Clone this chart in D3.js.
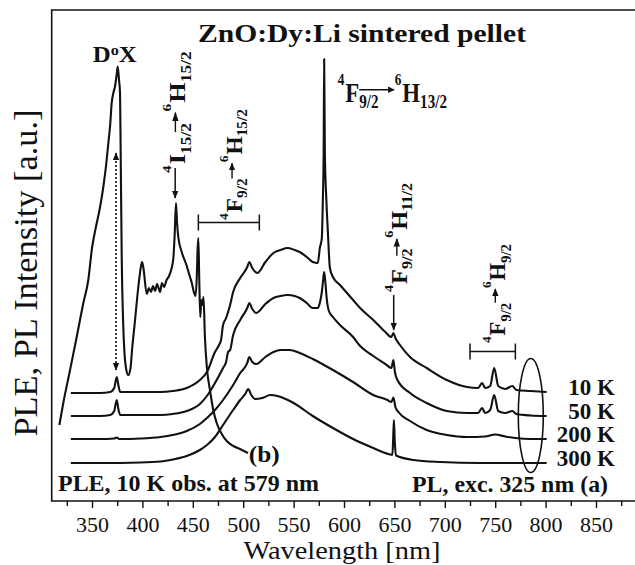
<!DOCTYPE html>
<html>
<head>
<meta charset="utf-8">
<script src="https://cdn.jsdelivr.net/npm/d3@7"></script>
<style>
  body { margin: 0; background: #fff; }
  svg text { font-family: "Liberation Serif", "Times New Roman", serif; fill: #111; }
</style>
</head>
<body>
<svg width="635" height="565"></svg>
<script>
// wavelength [nm], intensity [a.u.]
var ple10K = [[317.6,15.2],[321.5,19.6],[328.2,26.2],[334.8,32.8],[341.4,39.6],[346.3,44.2],[350,50.6],[354.7,55.6],[358,58.8],[361.2,62.8],[364,67.2],[366.2,71.6],[368,75.2],[369.5,79.6],[371.4,81.8],[372.8,82.9],[374.3,85.0],[375.5,86.9],[376.8,84.2],[377.8,81.6],[378.5,68.2],[379.5,48.2],[380.8,36.2],[382.2,29.6],[383.7,26.6],[386,25.2],[388.2,26.6],[389.7,30.2],[392.7,36.2],[395.6,42.2],[397.6,45.6],[399.6,47.8],[401,46.6],[404.3,41.4],[406.5,42.6],[408.5,41.8],[410.5,43.0],[412.5,42.0],[414.5,43.4],[417.5,41.8],[419.4,43.6],[421.4,42.8],[424,44.2],[426.4,45.0],[429,46.6],[430.7,48.6],[432,53.2],[433.3,59.6],[434.3,55.8],[435.6,52.8],[439,49.8],[444,47.0],[446,45.6],[449,43.6],[451,41.8],[452.7,41.0],[454,45.2],[454.7,50.2],[455.5,52.6],[456.4,44.2],[457.4,36.8],[458.4,40.2],[459.6,39.2],[460.6,40.8],[462,32.8],[464,26.6],[467,22.2],[470.3,18.2],[473.7,15.6],[478.7,13.4],[483.6,12.0],[490.2,11.0],[496.8,10.4],[504.8,9.6]];

var pl10K = [[329,21.6],[358,21.6],[368,21.8],[372,22.6],[374.5,24.8],[376.3,23.0],[378,21.8],[398,21.8],[418,21.8],[430,22.0],[444,22.6],[457,24.2],[464,25.8],[472,29.8],[476,31.2],[478,32.2],[480,35.2],[483,36.6],[485,37.8],[487,39.2],[490,41.8],[497,44.6],[504,46.8],[506,47.8],[509,46.6],[514,45.6],[522,47.8],[530,49.6],[537,50.2],[544,50.6],[551,50.2],[556,49.8],[563,48.8],[569,47.8],[574,47.6],[576,50.6],[578,52.6],[579,60.2],[579.8,69.6],[580.3,88.4],[581,69.6],[582.5,60.2],[584,53.8],[586,46.6],[589,44.8],[596,43.2],[609,40.2],[616,38.6],[629,36.2],[641,33.8],[647,32.8],[649,33.6],[651,32.6],[655.5,31.2],[665.5,28.8],[682,26.6],[702,24.2],[722,22.8],[733,22.6],[737,23.6],[740,22.6],[745,23.0],[749,26.6],[753,23.0],[760,22.4],[767,23.0],[771,22.2],[785,22.0],[801,21.8]];

var pl50K = [[329,17.0],[358,17.0],[368,17.2],[372,18.0],[374.5,20.2],[376.3,18.2],[378,17.2],[398,17.2],[418,17.2],[430,17.4],[444,18.0],[457,19.4],[464,21.0],[472,23.6],[480,26.6],[483,27.8],[485,29.8],[487,30.2],[490,33.2],[497,36.2],[504,38.6],[506,39.6],[509,38.4],[513,37.6],[522,39.4],[530,40.6],[537,41.0],[544,41.2],[551,41.0],[556,40.6],[563,39.6],[569,38.6],[574,38.6],[576,39.6],[578,41.8],[579.3,44.2],[580.3,45.8],[581.3,44.2],[583,40.2],[585,38.0],[589,36.8],[596,35.2],[609,32.8],[616,31.0],[629,29.0],[641,27.4],[647,26.6],[649,28.2],[650.5,25.8],[653,24.2],[665.5,21.6],[682,19.6],[702,18.0],[722,17.6],[733,17.6],[737,18.6],[740,17.6],[745,18.2],[749,21.2],[753,18.0],[760,17.6],[767,18.0],[771,17.4],[785,17.1],[801,17.0]];

var pl200K = [[329,12.4],[358,12.4],[372,12.5],[374.5,12.7],[377,12.4],[398,12.5],[418,12.8],[430,13.2],[444,14.0],[457,15.4],[464,16.6],[472,18.2],[480,20.2],[490,23.2],[497,25.6],[504,27.6],[506,28.8],[509,27.8],[513,27.4],[522,28.8],[530,29.8],[537,30.2],[546,30.2],[556,29.6],[569,28.4],[589,26.2],[609,23.8],[629,21.2],[643,20.2],[647,19.8],[649,20.7],[651,18.8],[654,17.8],[665.5,16.0],[682,14.2],[702,13.2],[722,12.8],[740,12.9],[750,13.3],[760,12.9],[770,12.6],[785,12.4],[801,12.4]];

var pl300K = [[329,7.6],[358,7.6],[398,7.7],[418,7.9],[430,8.3],[444,9.0],[457,10.2],[464,11.2],[472,12.8],[480,15.2],[490,18.2],[497,20.2],[502,21.4],[505,22.4],[508,21.2],[512,20.4],[519,20.6],[527,21.2],[534,21.0],[542,20.4],[550,19.6],[569,17.0],[589,14.6],[609,12.4],[629,10.6],[644,9.4],[648,9.2],[648.8,12.6],[649.5,16.2],[650.3,12.2],[651.5,9.1],[669,8.2],[696,7.8],[735,7.6],[801,7.6]];

var plSeries = [pl10K, pl50K, pl200K, pl300K];
var tempLabels = ["10 K", "50 K", "200 K", "300 K"];
var majorTicks = [350, 400, 450, 500, 550, 600, 650, 700, 750, 800, 850];
var minorTicks = [325, 375, 425, 475, 525, 575, 625, 675, 725, 775, 825, 875];

var svg = d3.select("svg");

var x = d3.scaleLinear().domain([310, 900]).range([51.7, 646.4]);
var y = d3.scaleLinear().domain([0, 98.2]).range([501, 10]);

var defs = svg.append("defs");
defs.append("marker").attr("id", "head")
    .attr("viewBox", "0 0 10 10").attr("refX", 9).attr("refY", 5)
    .attr("markerWidth", 8).attr("markerHeight", 8).attr("markerUnits", "userSpaceOnUse")
    .attr("orient", "auto-start-reverse")
  .append("path").attr("d", "M0,1L10,5L0,9z").attr("fill", "#111");

// frame
svg.append("path")
    .attr("d", "M" + x(900) + "," + y(98.2) + "H" + x(310) + "V" + y(0) + "H" + x(900))
    .attr("fill", "none").attr("stroke", "#111").attr("stroke-width", 1.6);

// axes
var bottomAxis = d3.axisBottom(x).tickValues(majorTicks).tickSize(7).tickPadding(8).tickFormat(d3.format("d"));
var gx = svg.append("g").attr("transform", "translate(0," + y(0) + ")").call(bottomAxis);
gx.select(".domain").remove();
gx.attr("font-family", null);
gx.selectAll("text").attr("font-size", 22).attr("fill", "#111");
gx.selectAll("line").attr("stroke", "#111").attr("stroke-width", 1.4);

var minorAxis = d3.axisBottom(x).tickValues(minorTicks).tickSize(5).tickFormat("");
var gm = svg.append("g").attr("transform", "translate(0," + y(0) + ")").call(minorAxis);
gm.select(".domain").remove();
gm.selectAll("line").attr("stroke", "#111").attr("stroke-width", 1.4);

svg.append("text").attr("x", 342).attr("y", 559).attr("text-anchor", "middle")
    .attr("font-size", 25).attr("textLength", 197).attr("lengthAdjust", "spacingAndGlyphs")
    .text("Wavelength [nm]");
svg.append("text").attr("transform", "translate(37,273) rotate(-90)").attr("text-anchor", "middle")
    .attr("font-size", 33).attr("textLength", 327).attr("lengthAdjust", "spacingAndGlyphs")
    .text("PLE, PL Intensity [a.u.]");

// curves
var line = d3.line().x(function(d) { return x(d[0]); }).y(function(d) { return y(d[1]); })
    .curve(d3.curveMonotoneX);

svg.selectAll(".pl").data(plSeries).enter().append("path")
    .attr("class", "pl").attr("d", line)
    .attr("fill", "none").attr("stroke", "#111").attr("stroke-width", 2.1).attr("stroke-linejoin", "round");

svg.append("path").datum(ple10K).attr("d", line)
    .attr("fill", "none").attr("stroke", "#111").attr("stroke-width", 2.1).attr("stroke-linejoin", "round");

// temperature labels at the end of each PL curve
svg.selectAll(".temp").data(plSeries).enter().append("text")
    .attr("class", "temp")
    .attr("x", 615).attr("y", function(d) { return y(d[d.length - 1][1]) + 3; })
    .attr("text-anchor", "end").attr("font-size", 23).attr("font-weight", "bold")
    .text(function(d, i) { return tempLabels[i]; });

// ellipse round the curve ends
svg.append("ellipse")
    .attr("cx", x(785.3)).attr("cy", y(17.1))
    .attr("rx", x(797.7) - x(785.3)).attr("ry", y(0) - y(11.4))
    .attr("fill", "none").attr("stroke", "#111").attr("stroke-width", 1.6);

// text boxes
function boldText(px, py, size, len, str, anchor) {
  return svg.append("text").attr("x", px).attr("y", py).attr("font-size", size).attr("font-weight", "bold")
      .attr("text-anchor", anchor || "start")
      .attr("textLength", len).attr("lengthAdjust", "spacingAndGlyphs").text(str);
}
boldText(198, 42, 25, 328, "ZnO:Dy:Li sintered pellet");
boldText(58, 491, 23, 261, "PLE, 10 K obs. at 579 nm");
boldText(412, 492, 23, 196, "PL, exc. 325 nm (a)");
boldText(x(505.5), y(7.8), 23, 31, "(b)");

var dx = svg.append("text").attr("x", x(350.7)).attr("y", y(87.9)).attr("font-size", 23).attr("font-weight", "bold")
    .attr("textLength", 44).attr("lengthAdjust", "spacingAndGlyphs");
dx.append("tspan").text("D");
dx.append("tspan").attr("font-size", 15).attr("dy", -7).text("o");
dx.append("tspan").attr("dy", 7).text("X");

// dotted double arrow at the D0X line
svg.append("line")
    .attr("x1", x(373.8)).attr("x2", x(373.8)).attr("y1", y(69.6)).attr("y2", y(26.2))
    .attr("stroke", "#111").attr("stroke-width", 1.6).attr("stroke-dasharray", "2,2")
    .attr("marker-start", "url(#head)").attr("marker-end", "url(#head)");

// pointer arrows
function pointer(wl, i0, i1) {
  svg.append("line").attr("x1", x(wl)).attr("x2", x(wl)).attr("y1", y(i0)).attr("y2", y(i1))
      .attr("stroke", "#111").attr("stroke-width", 1.5).attr("marker-end", "url(#head)");
}
pointer(432.5, 66.6, 60.6);
pointer(649.3, 41.2, 34.2);

// range brackets
function bracket(w0, w1, level) {
  var yy = y(level);
  svg.append("path")
      .attr("d", "M" + x(w0) + "," + (yy - 8) + "v16M" + x(w0) + "," + yy + "H" + x(w1) + "M" + x(w1) + "," + (yy - 8) + "v16")
      .attr("fill", "none").attr("stroke", "#111").attr("stroke-width", 1.5);
}
bracket(455.5, 516, 55.7);
bracket(725, 770, 29.9);

// term-symbol labels such as 4F9/2 -> 6H13/2, stretched along the text to a given length
function termLabel(px, py, rotate, fs, len, parts) {
  var g = svg.append("g");
  var inner = g.append("g");
  var cx = 0;
  parts.forEach(function(p) {
    var kind = p[0];
    if (kind === "arrow") {
      var s = inner.append("text").attr("x", cx).attr("y", fs * 0.24).attr("font-size", fs * 0.66)
          .attr("font-weight", "bold").text(p[1]);
      var w = s.node().getComputedTextLength();
      var a0 = Math.max(cx, cx + w - p[2] * fs / 23), a1 = a0 + p[3] * fs / 23, ay = -fs * 0.42;
      inner.append("line").attr("x1", a0).attr("x2", a1).attr("y1", ay).attr("y2", ay)
          .attr("stroke", "#111").attr("stroke-width", 1.4).attr("marker-end", "url(#head)");
      cx = Math.max(cx + w, a1) + 1;
    } else {
      var size = kind === "main" ? fs : (kind === "sup" ? fs * 0.58 : fs * 0.66);
      var yy = kind === "sup" ? -fs * 0.6 : (kind === "sub" ? fs * 0.24 : 0);
      var t = inner.append("text").attr("x", cx).attr("y", yy).attr("font-size", size)
          .attr("font-weight", "bold").text(p[1]);
      cx += t.node().getComputedTextLength() + (kind === "main" ? 0 : 1);
    }
  });
  inner.attr("transform", "scale(" + (len / cx) + ",1)");
  g.attr("transform", "translate(" + px + "," + py + ")" + (rotate ? " rotate(-90)" : ""));
}

termLabel(x(442.3), y(65.6), true, 23, 123, [["sup", "4"], ["main", "I"], ["arrow", "15/2", 8, 17], ["sup", "6"], ["main", "H"], ["sub", "15/2"]]);
termLabel(x(498.5), y(56.2), true, 23, 112, [["sup", "4"], ["main", "F"], ["arrow", "9/2", 0, 15], ["sup", "6"], ["main", "H"], ["sub", "15/2"]]);
termLabel(x(593.8), y(79.9), false, 28, 110, [["sup", "4"], ["main", "F"], ["arrow", "9/2", 99, 35], ["sup", "6"], ["main", "H"], ["sub", "13/2"]]);
termLabel(x(662), y(41.8), true, 23, 110, [["sup", "4"], ["main", "F"], ["arrow", "9/2", 7, 16], ["sup", "6"], ["main", "H"], ["sub", "11/2"]]);
termLabel(x(759.7), y(31.6), true, 23, 100, [["sup", "4"], ["main", "F"], ["arrow", "9/2", 0, 14], ["sup", "6"], ["main", "H"], ["sub", "9/2"]]);
</script>
</body>
</html>
